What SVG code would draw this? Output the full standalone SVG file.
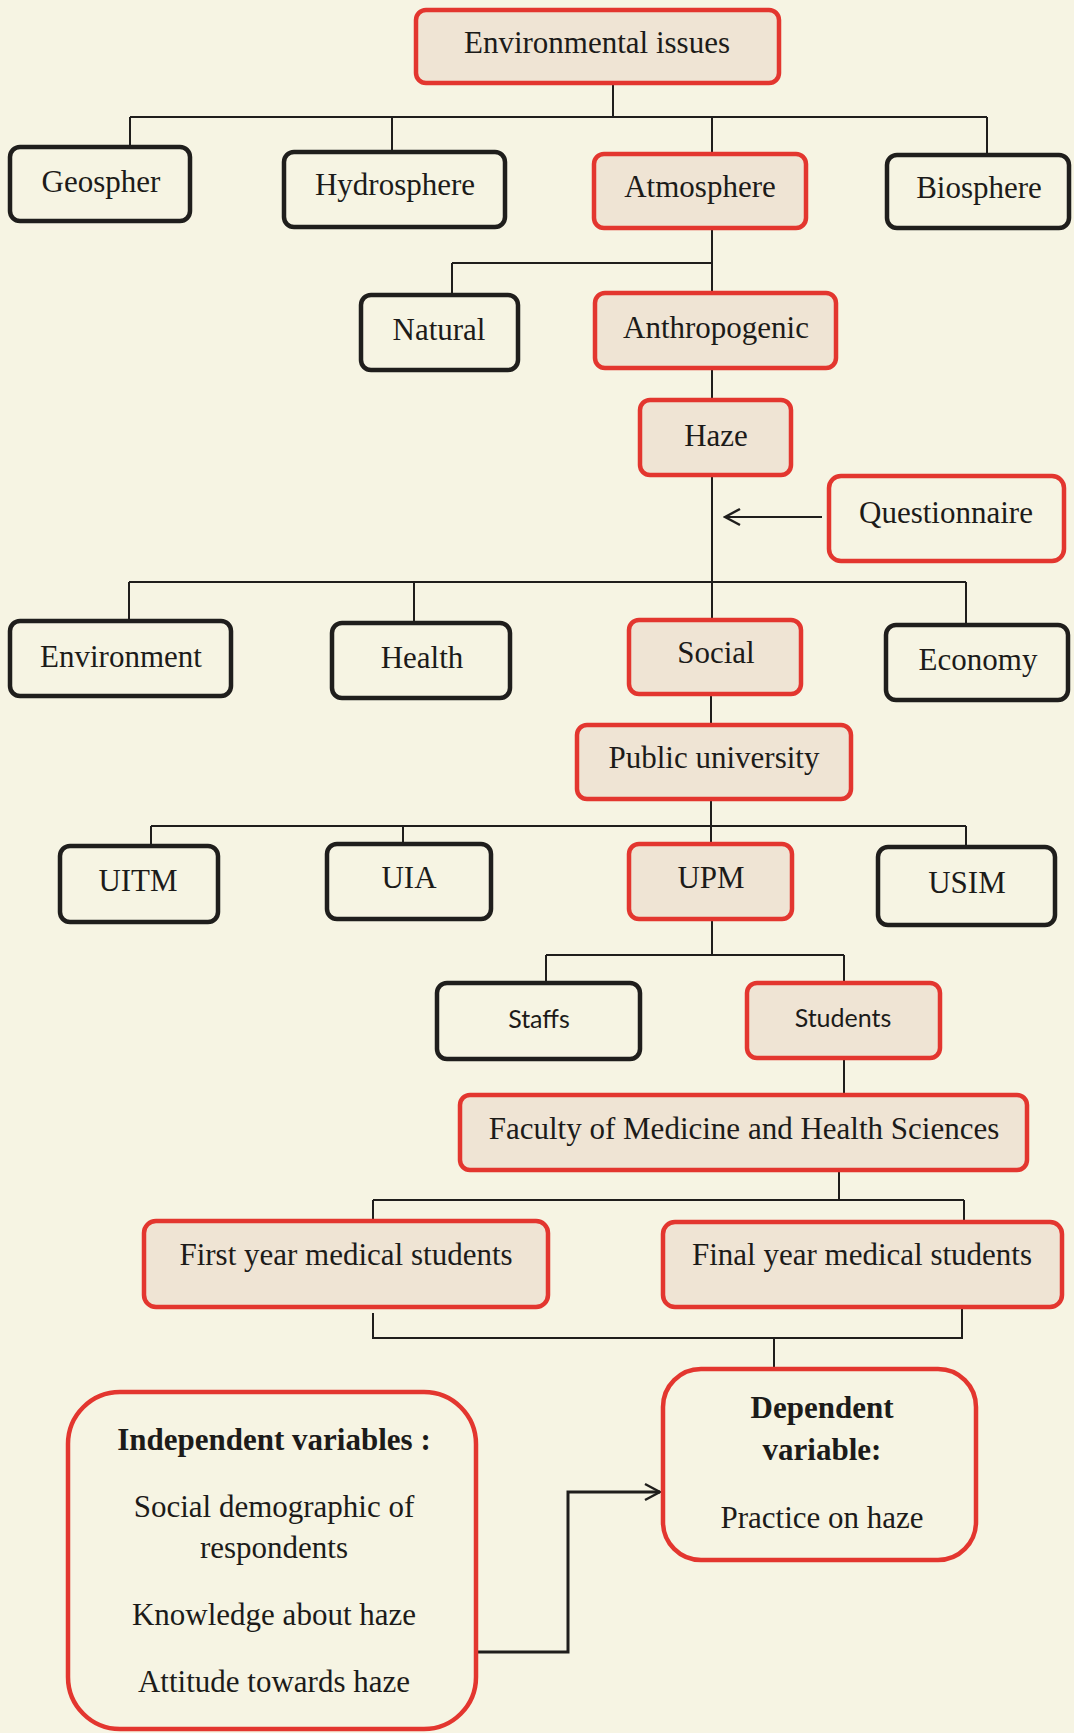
<svg xmlns="http://www.w3.org/2000/svg" width="1074" height="1733" viewBox="0 0 1074 1733">
<style>
.bg{fill:#f6f4e3}
.red{fill:#efe4d4;stroke:#e3362f;stroke-width:4.5}
.redw{fill:#f6f4e3;stroke:#e3362f;stroke-width:4.5}
.blk{fill:#f6f4e3;stroke:#1f1e1c;stroke-width:4.5}
.t{font-family:"Liberation Serif","Times New Roman",serif;font-size:31px;fill:#1c1b19;text-anchor:middle}
.b{font-weight:bold}
.s{font-family:Lato,"Open Sans",sans-serif;font-size:25px;fill:#1c1b19;text-anchor:middle}
.c{fill:none;stroke:#1f1e1c;stroke-width:2}
.c3{fill:none;stroke:#1f1e1c;stroke-width:3}
</style>
<defs>
<marker id="arr" viewBox="0 0 20 20" refX="18" refY="10" markerWidth="20" markerHeight="20" markerUnits="userSpaceOnUse" orient="auto">
<path d="M3,2 L18,10 L3,18" fill="none" stroke="#1f1e1c" stroke-width="2.5"/>
</marker>
</defs>
<rect class="bg" x="0" y="0" width="1074" height="1733"/>
<g id="connectors">
<path class="c" d="M613,83 V117 M130,117 H987 M130,117 V147 M392,117 V152 M712,117 V154 M987,117 V155"/>
<path class="c" d="M712,228 V293 M452,263 H712 M452,263 V295"/>
<path class="c" d="M712,368 V400"/>
<path class="c" d="M712,475 V620 M129,582 H966 M129,582 V621 M414,582 V623 M966,582 V625"/>
<path class="c" d="M711,694 V725"/>
<path class="c" d="M711,799 V844 M151,826 H966 M151,826 V846 M403,826 V844 M966,826 V847"/>
<path class="c" d="M712,919 V955 M546,955 H844 M546,955 V983 M844,955 V983"/>
<path class="c" d="M844,1058 V1095"/>
<path class="c" d="M839,1170 V1200 M373,1200 H964 M373,1200 V1221 M964,1200 V1222"/>
<path class="c" d="M373,1313 V1338 H962 V1309 M774,1338 V1369"/>
<path class="c" d="M822,517 H725" marker-end="url(#arr)"/>
<path class="c3" d="M476,1652 H568 V1492 H660" marker-end="url(#arr)"/>
</g>
<g id="env"><rect class="red" x="416" y="10" width="363" height="73" rx="10"/><text class="t" x="597" y="53">Environmental issues</text></g>
<g id="geo"><rect class="blk" x="10" y="147" width="180" height="74" rx="10"/><text class="t" x="101" y="192">Geospher</text></g>
<g id="hydro"><rect class="blk" x="284" y="152" width="221" height="75" rx="10"/><text class="t" x="395" y="195">Hydrosphere</text></g>
<g id="atmo"><rect class="red" x="594" y="154" width="212" height="74" rx="10"/><text class="t" x="700" y="197">Atmosphere</text></g>
<g id="bio"><rect class="blk" x="887" y="155" width="182" height="73" rx="10"/><text class="t" x="979" y="198">Biosphere</text></g>
<g id="natural"><rect class="blk" x="361" y="295" width="157" height="75" rx="10"/><text class="t" x="439" y="340">Natural</text></g>
<g id="anthro"><rect class="red" x="595" y="293" width="241" height="75" rx="10"/><text class="t" x="716" y="338">Anthropogenic</text></g>
<g id="haze"><rect class="red" x="640" y="400" width="151" height="75" rx="10"/><text class="t" x="716" y="446">Haze</text></g>
<g id="questionnaire"><rect class="redw" x="829" y="476" width="235" height="85" rx="12"/><text class="t" x="946" y="523">Questionnaire</text></g>
<g id="environment"><rect class="blk" x="10" y="621" width="221" height="75" rx="10"/><text class="t" x="121" y="667">Environment</text></g>
<g id="health"><rect class="blk" x="332" y="623" width="178" height="75" rx="10"/><text class="t" x="422" y="668">Health</text></g>
<g id="social"><rect class="red" x="629" y="620" width="172" height="74" rx="10"/><text class="t" x="716" y="663">Social</text></g>
<g id="economy"><rect class="blk" x="886" y="625" width="182" height="75" rx="10"/><text class="t" x="978" y="670">Economy</text></g>
<g id="public"><rect class="red" x="577" y="725" width="274" height="74" rx="10"/><text class="t" x="714" y="768">Public university</text></g>
<g id="uitm"><rect class="blk" x="60" y="846" width="158" height="76" rx="10"/><text class="t" x="138" y="891">UITM</text></g>
<g id="uia"><rect class="blk" x="327" y="844" width="164" height="75" rx="10"/><text class="t" x="409" y="888">UIA</text></g>
<g id="upm"><rect class="red" x="629" y="844" width="163" height="75" rx="10"/><text class="t" x="711" y="888">UPM</text></g>
<g id="usim"><rect class="blk" x="878" y="847" width="177" height="78" rx="10"/><text class="t" x="967" y="893">USIM</text></g>
<g id="staffs"><rect class="blk" x="437" y="983" width="203" height="76" rx="10"/><text class="s" x="539" y="1028">Staffs</text></g>
<g id="students"><rect class="red" x="747" y="983" width="193" height="75" rx="10"/><text class="s" x="843" y="1027">Students</text></g>
<g id="faculty"><rect class="red" x="460" y="1095" width="567" height="75" rx="10"/><text class="t" x="744" y="1139">Faculty of Medicine and Health Sciences</text></g>
<g id="first"><rect class="red" x="144" y="1221" width="404" height="86" rx="12"/><text class="t" x="346" y="1265">First year medical students</text></g>
<g id="final"><rect class="red" x="663" y="1222" width="399" height="85" rx="12"/><text class="t" x="862" y="1265">Final year medical students</text></g>
<g id="dependent"><rect class="redw" x="663" y="1369" width="313" height="191" rx="38"/>
<text class="t b" x="822" y="1418">Dependent</text>
<text class="t b" x="822" y="1460">variable:</text>
<text class="t" x="822" y="1528">Practice on haze</text></g>
<g id="independent"><rect class="redw" x="68" y="1392" width="408" height="337" rx="52"/>
<text class="t b" x="274" y="1450">Independent variables :</text>
<text class="t" x="274" y="1517">Social demographic of</text>
<text class="t" x="274" y="1558">respondents</text>
<text class="t" x="274" y="1625">Knowledge about haze</text>
<text class="t" x="274" y="1692">Attitude towards haze</text></g>
</svg>
